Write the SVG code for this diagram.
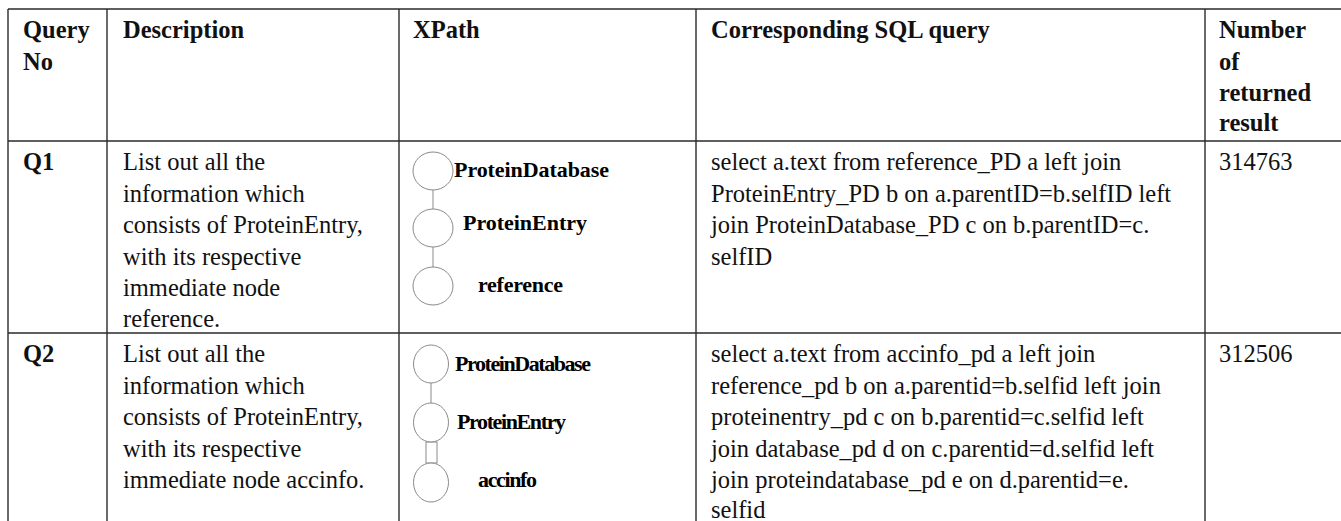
<svg xmlns="http://www.w3.org/2000/svg" width="1341" height="521" viewBox="0 0 1341 521">
<style>
.grid{stroke:#2a2a2a;stroke-width:1.4;fill:none}
.h{font-family:"Liberation Serif",serif;font-weight:bold;font-size:24.5px;fill:#111}
.b{font-family:"Liberation Serif",serif;font-size:24.5px;fill:#111}
.lbl{font-family:"Liberation Serif",serif;font-weight:bold;font-size:22px;fill:#000}
.nd{fill:#fff;stroke:#8a8a8a;stroke-width:1}
.cn{stroke:#8a8a8a;stroke-width:1;fill:none}
</style>
<rect x="0" y="0" width="1341" height="521" fill="#fff"/>
<g id="grid">
<line class="grid" x1="8" y1="9" x2="1341" y2="9"/>
<line class="grid" x1="8" y1="141" x2="1341" y2="141"/>
<line class="grid" x1="8" y1="333" x2="1341" y2="333"/>
<line class="grid" x1="8" y1="9" x2="8" y2="521"/>
<line class="grid" x1="107" y1="9" x2="107" y2="521"/>
<line class="grid" x1="399" y1="9" x2="399" y2="521"/>
<line class="grid" x1="696" y1="9" x2="696" y2="521"/>
<line class="grid" x1="1205" y1="9" x2="1205" y2="521"/>
</g>
<g id="header">
<text class="h" x="23" y="38">Query</text>
<text class="h" x="23" y="69.5">No</text>
<text class="h" x="123" y="38">Description</text>
<text class="h" x="413" y="38">XPath</text>
<text class="h" x="711" y="38">Corresponding SQL query</text>
<text class="h" x="1219" y="38">Number</text>
<text class="h" x="1219" y="69.5">of</text>
<text class="h" x="1219" y="100.5">returned</text>
<text class="h" x="1219" y="131">result</text>
</g>
<g id="row-q1">
<text class="h" x="23" y="170">Q1</text>
<text class="b" x="123" y="170">List out all the</text>
<text class="b" x="123" y="201.5">information which</text>
<text class="b" x="123" y="233">consists of ProteinEntry,</text>
<text class="b" x="123" y="264.5">with its respective</text>
<text class="b" x="123" y="296">immediate node</text>
<text class="b" x="123" y="327">reference.</text>
<text class="b" x="711" y="170">select a.text from reference_PD a left join</text>
<text class="b" x="711" y="201.5">ProteinEntry_PD b on a.parentID=b.selfID left</text>
<text class="b" x="711" y="233">join ProteinDatabase_PD c on b.parentID=c.</text>
<text class="b" x="711" y="264.5">selfID</text>
<text class="b" x="1219" y="170">314763</text>
</g>
<g id="row-q2">
<text class="h" x="23" y="362">Q2</text>
<text class="b" x="123" y="362">List out all the</text>
<text class="b" x="123" y="393.5">information which</text>
<text class="b" x="123" y="425">consists of ProteinEntry,</text>
<text class="b" x="123" y="456.5">with its respective</text>
<text class="b" x="123" y="488">immediate node accinfo.</text>
<text class="b" x="711" y="362">select a.text from accinfo_pd a left join</text>
<text class="b" x="711" y="393.5">reference_pd b on a.parentid=b.selfid left join</text>
<text class="b" x="711" y="425">proteinentry_pd c on b.parentid=c.selfid left</text>
<text class="b" x="711" y="456.5">join database_pd d on c.parentid=d.selfid left</text>
<text class="b" x="711" y="488">join proteindatabase_pd e on d.parentid=e.</text>
<text class="b" x="711" y="518">selfid</text>
<text class="b" x="1219" y="362">312506</text>
</g>
<g id="connectors">
<line class="cn" x1="433" y1="190" x2="433" y2="209"/>
<line class="cn" x1="433" y1="247" x2="433" y2="267"/>
<line class="cn" x1="431" y1="383" x2="431" y2="403"/>
<rect class="cn" x="426" y="442" width="11" height="21"/>
</g>
<g id="q1-proteindatabase">
<ellipse class="nd" cx="433" cy="171" rx="20" ry="19"/>
<text class="lbl" x="454" y="177" textLength="155">ProteinDatabase</text>
</g>
<g id="q1-proteinentry">
<ellipse class="nd" cx="433" cy="228" rx="20" ry="19"/>
<text class="lbl" x="463" y="230" textLength="124">ProteinEntry</text>
</g>
<g id="q1-reference">
<ellipse class="nd" cx="433" cy="286" rx="20" ry="19"/>
<text class="lbl" x="478" y="292" textLength="85">reference</text>
</g>
<g id="q2-proteindatabase">
<ellipse class="nd" cx="431" cy="364" rx="17.5" ry="19"/>
<text class="lbl" x="455" y="371" font-size="21" textLength="136">ProteinDatabase</text>
</g>
<g id="q2-proteinentry">
<ellipse class="nd" cx="431" cy="422.5" rx="17.5" ry="19.5"/>
<text class="lbl" x="457" y="429" font-size="21" textLength="109">ProteinEntry</text>
</g>
<g id="q2-accinfo">
<ellipse class="nd" cx="431" cy="482.5" rx="17.5" ry="19.5"/>
<text class="lbl" x="478" y="487" font-size="21" textLength="59">accinfo</text>
</g>
</svg>
